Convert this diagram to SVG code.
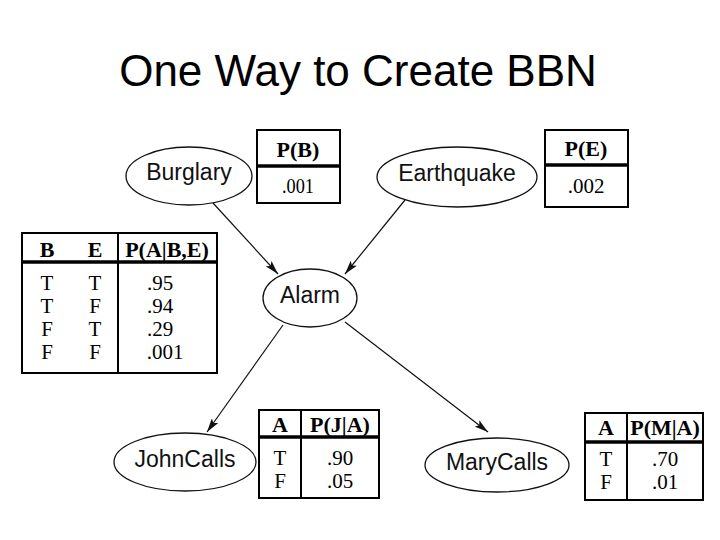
<svg xmlns="http://www.w3.org/2000/svg" width="720" height="540" viewBox="0 0 720 540">
<style>
.title{font-family:"Liberation Sans",Arial,sans-serif;font-size:44px;fill:#000}
.node ellipse{fill:#fff;stroke:#111;stroke-width:1.3}
.node text{font-family:"Liberation Sans",Arial,sans-serif;font-size:23px;fill:#111;text-anchor:middle}
.tbl rect{fill:#fff;stroke:#000;stroke-width:2}
.tbl line{stroke:#000;stroke-width:2}
.tbl line.thick{stroke-width:3.5}
.tbl text{font-family:"Liberation Serif","Times New Roman",serif;font-size:21px;fill:#000;text-anchor:middle}
.tbl text.h{font-weight:bold;font-size:22px}
.edge{stroke:#111;stroke-width:1.2;fill:none;marker-end:url(#arr)}
</style>
<defs>
<marker id="arr" viewBox="0 0 14 8" refX="14" refY="4" markerWidth="14" markerHeight="8" markerUnits="userSpaceOnUse" orient="auto">
<path d="M0,0 L14,4 L0,8 L3,4 Z" fill="#111"/>
</marker>
</defs>
<rect width="720" height="540" fill="#fff"/>
<text class="title" x="358" y="86" text-anchor="middle">One Way to Create BBN</text>

<g id="connectors">
<line class="edge" x1="213" y1="203" x2="278" y2="274"/>
<line class="edge" x1="405" y1="200" x2="345" y2="274"/>
<line class="edge" x1="283" y1="325" x2="207" y2="432"/>
<line class="edge" x1="345" y1="322" x2="488" y2="432"/>
</g>

<g id="burglary" class="node">
<ellipse cx="189" cy="176" rx="63" ry="29"/>
<text x="189" y="180">Burglary</text>
</g>
<g id="earthquake" class="node">
<ellipse cx="457" cy="177" rx="80" ry="30"/>
<text x="457" y="181">Earthquake</text>
</g>
<g id="alarm" class="node">
<ellipse cx="310" cy="298" rx="47" ry="29"/>
<text x="310" y="303">Alarm</text>
</g>
<g id="johncalls" class="node">
<ellipse cx="185" cy="462" rx="71" ry="29"/>
<text x="185" y="467">JohnCalls</text>
</g>
<g id="marycalls" class="node">
<ellipse cx="497" cy="465" rx="72" ry="27"/>
<text x="497" y="470">MaryCalls</text>
</g>

<g id="cpt-b" class="tbl">
<rect x="257" y="130" width="83" height="73"/>
<line class="thick" x1="257" y1="166" x2="340" y2="166"/>
<text class="h" x="298" y="157">P(B)</text>
<text x="298" y="193" font-size="22" textLength="32" lengthAdjust="spacingAndGlyphs">.001</text>
</g>
<g id="cpt-e" class="tbl">
<rect x="545" y="130" width="83" height="77"/>
<line class="thick" x1="545" y1="165" x2="628" y2="165"/>
<text class="h" x="586" y="156">P(E)</text>
<text x="586" y="193" font-size="23">.002</text>
</g>
<g id="cpt-a" class="tbl">
<rect x="22" y="233" width="195" height="140"/>
<line class="thick" x1="22" y1="262" x2="217" y2="262"/>
<line x1="118" y1="233" x2="118" y2="373"/>
<text class="h" x="47" y="257">B</text>
<text class="h" x="95" y="257">E</text>
<text class="h" x="167" y="257">P(A|B,E)</text>
<text x="47" y="290">T</text><text x="95" y="290">T</text><text x="160" y="290">.95</text>
<text x="47" y="313">T</text><text x="95" y="313">F</text><text x="160" y="313">.94</text>
<text x="47" y="336">F</text><text x="95" y="336">T</text><text x="160" y="336">.29</text>
<text x="47" y="359">F</text><text x="95" y="359">F</text><text x="165" y="359">.001</text>
</g>
<g id="cpt-j" class="tbl">
<rect x="259" y="410" width="120" height="88"/>
<line class="thick" x1="259" y1="437" x2="379" y2="437"/>
<line x1="301" y1="410" x2="301" y2="498"/>
<text class="h" x="280" y="432">A</text>
<text class="h" x="340" y="432">P(J|A)</text>
<text x="280" y="465">T</text><text x="340" y="465">.90</text>
<text x="280" y="488">F</text><text x="340" y="488">.05</text>
</g>
<g id="cpt-m" class="tbl">
<rect x="585" y="413" width="118" height="87"/>
<line class="thick" x1="585" y1="442" x2="703" y2="442"/>
<line x1="627" y1="413" x2="627" y2="500"/>
<text class="h" x="606" y="435">A</text>
<text class="h" x="665" y="435">P(M|A)</text>
<text x="606" y="466">T</text><text x="665" y="466">.70</text>
<text x="606" y="489">F</text><text x="665" y="489">.01</text>
</g>
</svg>
